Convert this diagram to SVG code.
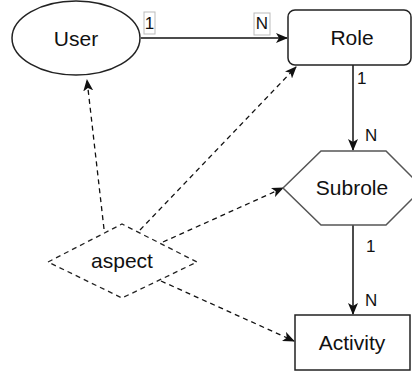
<svg xmlns="http://www.w3.org/2000/svg" width="412" height="372" viewBox="0 0 412 372">
<defs>
<style>
.shape{fill:#fff;stroke:#222;stroke-width:1.5}
.hex{fill:#fff;stroke:#555;stroke-width:1.5}
.dash{fill:#fff;stroke:#222;stroke-width:1.3;stroke-dasharray:5 4}
.t{font-family:"Liberation Sans",Arial,sans-serif;font-size:21px;fill:#111;text-anchor:middle}
.lbl{font-family:"Liberation Sans",Arial,sans-serif;font-size:17px;fill:#111}
.edge{fill:none;stroke:#111;stroke-width:1.5}
.dedge{fill:none;stroke:#111;stroke-width:1.3;stroke-dasharray:5 4}
.lbox{fill:#fff;stroke:#bbb;stroke-width:1}
</style>
<marker id="arr" viewBox="0 0 12 10" refX="11" refY="5" markerWidth="12" markerHeight="10" markerUnits="userSpaceOnUse" orient="auto">
<path d="M0,0 L12,5 L0,10 L3,5 Z" fill="#111"/>
</marker>
</defs>
<g id="connectors">
<line class="edge" x1="141" y1="38" x2="287" y2="38" marker-end="url(#arr)"/>
<line class="edge" x1="353" y1="65" x2="353" y2="150" marker-end="url(#arr)"/>
<line class="edge" x1="353" y1="225" x2="353" y2="314" marker-end="url(#arr)"/>
<line class="dedge" x1="104" y1="229" x2="87" y2="80" marker-end="url(#arr)"/>
<line class="dedge" x1="140" y1="230" x2="296" y2="67" marker-end="url(#arr)"/>
<line class="dedge" x1="163" y1="242" x2="283" y2="188" marker-end="url(#arr)"/>
<line class="dedge" x1="161" y1="281" x2="294" y2="341" marker-end="url(#arr)"/>
<rect class="lbox" x="144" y="12" width="11" height="22"/>
<text class="lbl" x="149.5" y="29" text-anchor="middle">1</text>
<rect class="lbox" x="254" y="13" width="16" height="22"/>
<text class="lbl" x="262" y="29" text-anchor="middle">N</text>
<text class="lbl" x="357" y="84">1</text>
<text class="lbl" x="365" y="141">N</text>
<text class="lbl" x="366" y="252">1</text>
<text class="lbl" x="365" y="306">N</text>
</g>
<g id="user">
<ellipse class="shape" cx="76" cy="38" rx="64" ry="37"/>
<text class="t" x="76" y="46">User</text>
</g>
<g id="role">
<rect class="shape" x="288" y="10" width="123" height="55" rx="7"/>
<text class="t" x="352" y="45">Role</text>
</g>
<g id="subrole">
<polygon class="hex" points="283,188 321,151 386,151 423,188 386,225 321,225"/>
<text class="t" x="352" y="195">Subrole</text>
</g>
<g id="activity">
<rect class="shape" x="295" y="315" width="115" height="55"/>
<text class="t" x="352" y="350">Activity</text>
</g>
<g id="aspect">
<polygon class="dash" points="48,262 122,224 197,262 122,298"/>
<text class="t" x="122" y="268">aspect</text>
</g>
</svg>
